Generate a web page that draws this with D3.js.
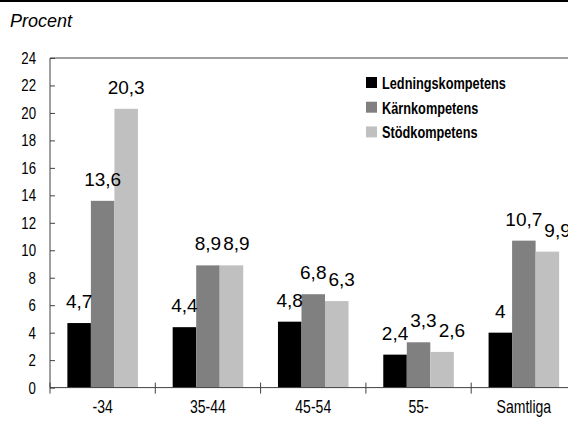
<!DOCTYPE html>
<html>
<head>
<meta charset="utf-8">
<script src="https://cdn.jsdelivr.net/npm/d3@7"></script>
<style>
  html, body { margin: 0; padding: 0; background: #fff; }
  svg { display: block; }
</style>
</head>
<body>
<svg id="chart" width="568" height="423"></svg>
<script>
// Age groups and the share (percent) for each kind of competence
const categories = ["-34", "35-44", "45-54", "55-", "Samtliga"];
const seriesNames = ["Ledningskompetens", "Kärnkompetens", "Stödkompetens"];
const ledning = [4.7, 4.4, 4.8, 2.4, 4];
const karn = [13.6, 8.9, 6.8, 3.3, 10.7];
const stod = [20.3, 8.9, 6.3, 2.6, 9.9];
const yTicks = [0, 2, 4, 6, 8, 10, 12, 14, 16, 18, 20, 22, 24];

const seriesValues = [ledning, karn, stod];
const colors = ["#000000", "#808080", "#c0c0c0"];
const sansFont = "Liberation Sans, Arial, sans-serif";
const squeeze = 0.78; // horizontal compression for the condensed axis/legend lettering

const svg = d3.select("#chart");
const plotLeft = 50, plotRight = 576.5, plotTop = 58, plotBottom = 387.6;

// narrow text: keep anchor point, compress glyphs horizontally
function narrowText(sel, sx) {
  sel.each(function () {
    const t = d3.select(this);
    const xv = +(t.attr("x") || 0);
    t.attr("x", xv / sx).attr("transform", `scale(${sx},1)`);
  });
}

// top rule across the page
svg.append("rect").attr("x", 0).attr("y", 0).attr("width", 568).attr("height", 2).attr("fill", "#000");

svg.append("text")
  .attr("x", 10).attr("y", 27)
  .attr("font-family", sansFont)
  .attr("font-style", "italic")
  .attr("font-size", 18)
  .text("Procent");

const x0 = d3.scaleBand().domain(categories).range([plotLeft, plotRight]).paddingInner(0.33).paddingOuter(0.165);
const x1 = d3.scaleBand().domain(seriesNames).range([0, x0.bandwidth()]);
const y = d3.scaleLinear().domain([0, 24]).range([plotBottom, plotTop]);

// plot frame top edge
svg.append("line").attr("x1", plotLeft).attr("x2", 568).attr("y1", plotTop).attr("y2", plotTop)
  .attr("stroke", "#404040").attr("stroke-width", 1);

// bars
const groups = svg.append("g").selectAll("g")
  .data(categories)
  .join("g")
  .attr("transform", d => `translate(${x0(d)},0)`);

groups.selectAll("rect")
  .data((c, i) => seriesNames.map((s, k) => ({ s, k, v: seriesValues[k][i] })))
  .join("rect")
  .attr("x", d => x1(d.s))
  .attr("width", x1.bandwidth())
  .attr("y", d => y(d.v))
  .attr("height", d => y(0) - y(d.v))
  .attr("fill", d => colors[d.k]);

// y axis
const yAxis = d3.axisLeft(y).tickValues(yTicks).tickSize(-5).tickPadding(14).tickFormat(d3.format("d"));
const gy = svg.append("g").attr("transform", `translate(${plotLeft},0)`).call(yAxis);
gy.select(".domain").attr("stroke", "#404040").attr("d", `M0,${plotTop}V${plotBottom}`);
gy.selectAll(".tick line").attr("stroke", "#404040");
gy.attr("font-family", sansFont).attr("font-size", 17);
gy.selectAll("text").attr("fill", "#000").call(narrowText, squeeze);

// x axis with ticks between categories
const gx = svg.append("g").attr("transform", `translate(0,${plotBottom})`);
gx.append("line").attr("x1", plotLeft).attr("x2", 568).attr("y1", 0).attr("y2", 0).attr("stroke", "#404040");
const step = x0.step();
const boundaries = categories.map(c => x0(c) - x0.paddingOuter() * step);
gx.selectAll(".bt").data(boundaries).join("line")
  .attr("x1", d => d).attr("x2", d => d).attr("y1", -5).attr("y2", 6)
  .attr("stroke", "#404040");
gx.selectAll(".cl").data(categories).join("text")
  .attr("x", d => x0(d) + x0.bandwidth() / 2)
  .attr("y", 25)
  .attr("text-anchor", "middle")
  .attr("font-family", sansFont)
  .attr("font-size", 18)
  .text(d => d)
  .call(narrowText, squeeze);

// value labels, nudged sideways when neighbours collide
const fmt = v => String(v).replace(".", ",");
const labelLayer = svg.append("g")
  .attr("font-family", sansFont)
  .attr("font-size", 19);
categories.forEach((c, i) => {
  let prev = null;
  seriesNames.forEach((s, k) => {
    const v = seriesValues[k][i];
    const cx = x0(c) + x1(s) + x1.bandwidth() / 2;
    const by = y(v) - 15;
    const t = labelLayer.append("text").attr("y", by).text(fmt(v));
    const w = t.node().getComputedTextLength();
    let lx = cx - w / 2;
    if (prev && Math.abs(prev.y - by) < 14 && lx < prev.right + 2) {
      lx = prev.right + 2;
    }
    t.attr("x", lx);
    prev = { right: lx + w, y: by };
  });
});

// legend
const legend = svg.append("g").attr("transform", "translate(366,77)");
seriesNames.forEach((s, k) => {
  const g = legend.append("g").attr("transform", `translate(0,${k * 24.7})`);
  g.append("rect").attr("width", 11).attr("height", 11).attr("fill", colors[k]);
  g.append("text").attr("x", 16).attr("y", 12)
    .attr("font-family", sansFont)
    .attr("font-size", 17).attr("font-weight", "bold").text(s)
    .call(narrowText, 0.75);
});
</script>
</body>
</html>
